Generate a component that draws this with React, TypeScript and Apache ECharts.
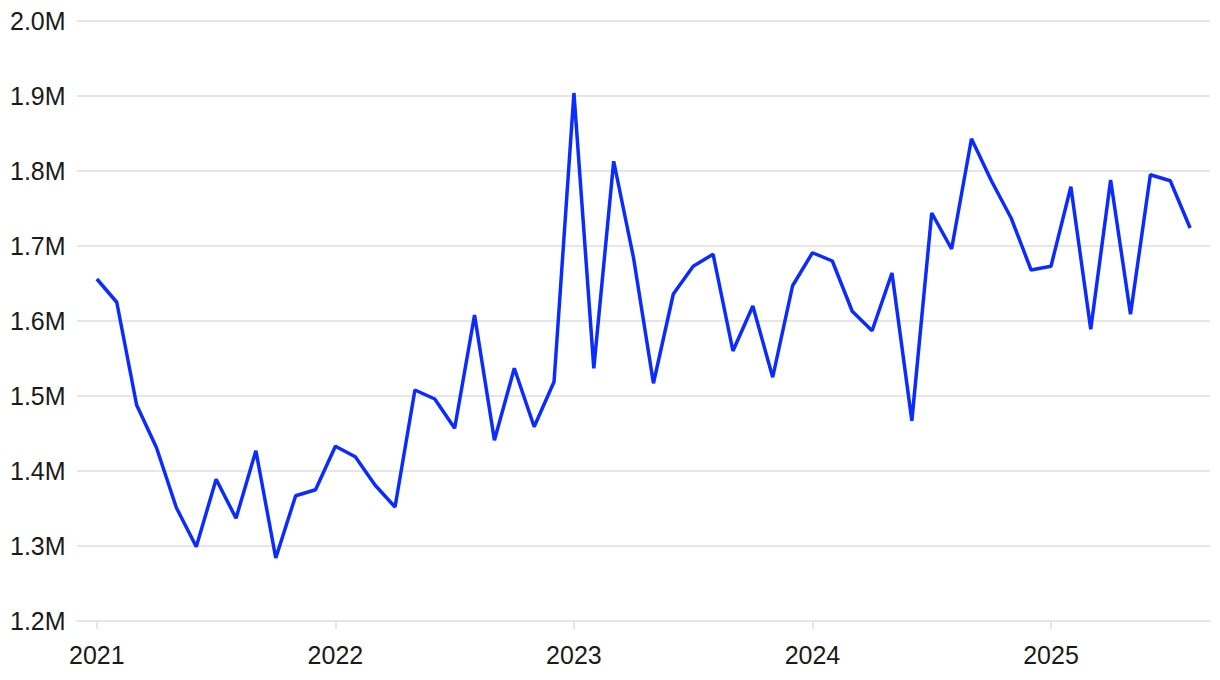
import React, { useEffect, useRef } from "react";
import * as echarts from "echarts";

// Months shown on the axis (Dec 2020 padding .. Sep 2025 padding)
const months: string[] = [];
for (let y = 2020; y <= 2025; y++) {
  for (let m = 1; m <= 12; m++) {
    const key = `${y}-${String(m).padStart(2, "0")}`;
    if (key >= "2020-12" && key <= "2025-09") months.push(key);
  }
}

// Monthly values Jan 2021 .. Aug 2025 (millions)
const values2021 = [1.656, 1.625, 1.488, 1.431, 1.351, 1.299, 1.389, 1.337, 1.427, 1.284, 1.367, 1.375];
const values2022 = [1.433, 1.419, 1.381, 1.352, 1.508, 1.496, 1.457, 1.608, 1.441, 1.537, 1.459, 1.519];
const values2023 = [1.904, 1.537, 1.813, 1.684, 1.517, 1.636, 1.673, 1.689, 1.560, 1.620, 1.525, 1.647];
const values2024 = [1.691, 1.680, 1.613, 1.587, 1.664, 1.467, 1.744, 1.696, 1.843, 1.787, 1.737, 1.668];
const values2025 = [1.673, 1.779, 1.589, 1.788, 1.609, 1.795, 1.787, 1.724];

const yTicks = { min: 1.2, max: 2.0, interval: 0.1 };

const seriesData: (number | null)[] = [
  null,
  ...values2021,
  ...values2022,
  ...values2023,
  ...values2024,
  ...values2025,
  null,
];

const FONT = "'Liberation Sans', Arial, sans-serif";

export default function App() {
  const ref = useRef<HTMLDivElement>(null);
  useEffect(() => {
    if (!ref.current) return;
    const chart = echarts.init(ref.current, undefined, { renderer: "svg" });
    const isJan = (_i: number, v: string) => v.endsWith("-01");
    chart.setOption({
      animation: false,
      grid: { left: 77, right: 10, top: 21, bottom: 59, containLabel: false },
      xAxis: {
        type: "category",
        data: months,
        boundaryGap: false,
        axisLine: { show: true, lineStyle: { color: "#e6e6e6", width: 2 } },
        axisTick: { show: true, interval: isJan, length: 8, lineStyle: { color: "#e6e6e6", width: 2 } },
        axisLabel: {
          interval: isJan,
          formatter: (v: string) => v.slice(0, 4),
          color: "#1a1a1a",
          fontSize: 25,
          fontFamily: FONT,
          margin: 21,
        },
        splitLine: { show: false },
      },
      yAxis: {
        type: "value",
        min: yTicks.min,
        max: yTicks.max,
        interval: yTicks.interval,
        axisLine: { show: false },
        axisTick: { show: false },
        axisLabel: {
          formatter: (v: number) => `${v.toFixed(1)}M`,
          color: "#1a1a1a",
          fontSize: 25,
          fontFamily: FONT,
          align: "left",
          margin: 67,
        },
        splitLine: { lineStyle: { color: "#e6e6e6", width: 2 } },
      },
      series: [
        {
          type: "line",
          data: seriesData,
          showSymbol: false,
          symbol: "none",
          connectNulls: false,
          lineStyle: { color: "#0a2cff", width: 3.5 },
        },
      ],
    });
    return () => chart.dispose();
  }, []);
  return <div ref={ref} style={{ width: 1220, height: 680, position: "absolute", left: 0, top: 0 }} />;
}
